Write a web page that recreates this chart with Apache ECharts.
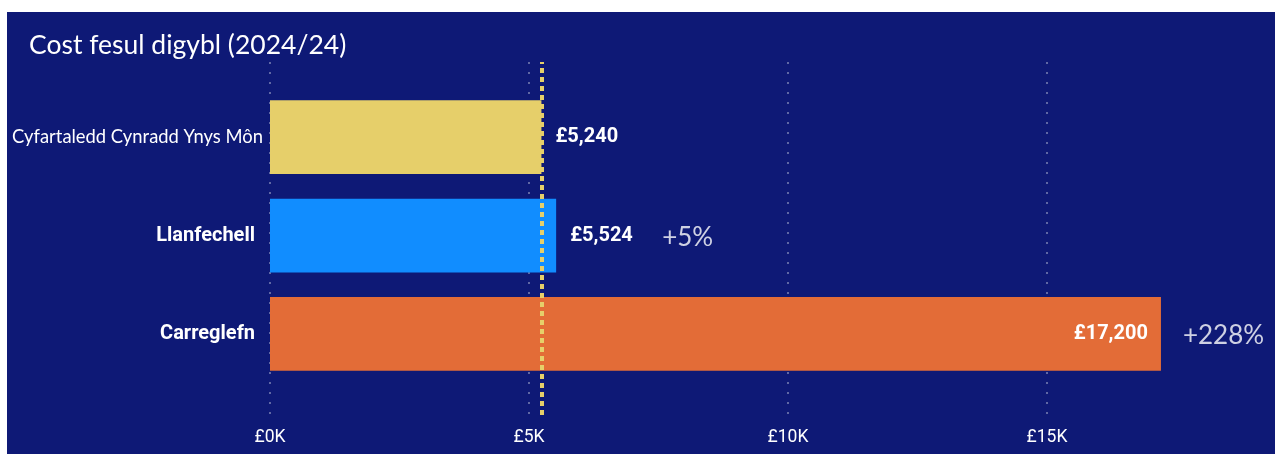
<!DOCTYPE html>
<html>
<head>
<meta charset="utf-8">
<script src="https://cdn.jsdelivr.net/npm/echarts@6/dist/echarts.min.js"></script>
<style>
  html, body { margin: 0; padding: 0; background: #ffffff; }
  #chart { position: absolute; left: 7px; top: 12px; width: 1268px; height: 442px; background: #0e1976; }
</style>
</head>
<body>
<div id="chart"></div>
<script>
// data
const categories = ["Cyfartaledd Cynradd Ynys Môn", "Llanfechell", "Carreglefn"];
const costs = [5240, 5524, 17200];
const barColors = ["#e6cf6a", "#118dff", "#e36c37"];
const averageCost = costs[0];
const xTicks = [0, 5000, 10000, 15000];

const chart = echarts.init(document.getElementById("chart"));

const money = (v) => "£" + v.toLocaleString("en-GB");
const pct = (v) => "+" + Math.round((v / averageCost - 1) * 100) + "%";

chart.setOption({
  animation: false,
  title: {
    text: "Cost fesul digybl (2024/24)",
    left: 17,
    top: 15,
    textStyle: { color: "#ffffff", fontFamily: "Lato", fontWeight: "normal", fontSize: 26.5 }
  },
  grid: [
    { left: 263, top: 76, height: 295, width: 1036, outerBoundsMode: "none" },
    { left: 263, top: 50, height: 353, width: 1036, outerBoundsMode: "none" }
  ],
  xAxis: [
    {
      gridIndex: 0, type: "value", min: 0, max: 20000, interval: 5000,
      axisLine: { show: false }, axisTick: { show: false },
      axisLabel: { show: false }, splitLine: { show: false }
    },
    {
      gridIndex: 1, type: "value", min: 0, max: 20000, interval: 5000,
      axisLine: { show: false }, axisTick: { show: false },
      axisLabel: {
        color: "#ffffff", fontFamily: "Roboto", fontSize: 17.5, margin: 14,
        formatter: (v) => xTicks.includes(v) ? "£" + v / 1000 + "K" : ""
      },
      splitLine: { show: true, lineStyle: { color: "#7c83b4", width: 1.5, type: [2, 8] } }
    }
  ],
  yAxis: [
    {
      gridIndex: 0, type: "category", data: categories, inverse: true,
      axisLine: { show: false }, axisTick: { show: false },
      axisLabel: {
        margin: 7,
        formatter: (v, i) => i === 0 ? "{a|" + v + "}" : "{b|" + v + "}",
        rich: {
          a: { color: "#ffffff", fontFamily: "Lato", fontSize: 18.4 },
          b: { color: "#ffffff", fontFamily: "Roboto", fontWeight: "bold", fontSize: 20, padding: [0, 8, 0, 0] }
        }
      }
    },
    {
      gridIndex: 1, type: "value", min: 0, max: 1,
      axisLine: { show: false }, axisTick: { show: false },
      axisLabel: { show: false }, splitLine: { show: false }
    }
  ],
  series: [
    {
      type: "bar",
      xAxisIndex: 0, yAxisIndex: 0,
      barWidth: "75%",
      z: 3,
      data: costs.map((v, i) => ({
        value: v,
        itemStyle: { color: barColors[i] },
        label: i === 2 ? { position: "insideRight", distance: 13 } : {}
      })),
      label: {
        show: true, position: "right", distance: 14,
        color: "#ffffff", fontFamily: "Roboto", fontWeight: "bold", fontSize: 20,
        formatter: (p) => money(p.value)
      }
    },
    {
      type: "scatter",
      xAxisIndex: 0, yAxisIndex: 0,
      symbolSize: 0,
      z: 4,
      data: costs.map((v, i) => ({
        value: [v, i],
        label: { show: i > 0, distance: i === 1 ? 106 : 22, offset: [0, 2] }
      })),
      label: {
        position: "right",
        color: "#ffffff", fontFamily: "Lato", fontSize: 26,
        formatter: (p) => pct(p.value[0])
      }
    },
    {
      type: "line",
      xAxisIndex: 1, yAxisIndex: 1,
      data: [],
      z: 5,
      markLine: {
        silent: true, symbol: "none", label: { show: false },
        lineStyle: { color: "#e6cf6a", width: 4, type: [5, 4] },
        data: [{ xAxis: averageCost }]
      }
    }
  ]
});
</script>
</body>
</html>
